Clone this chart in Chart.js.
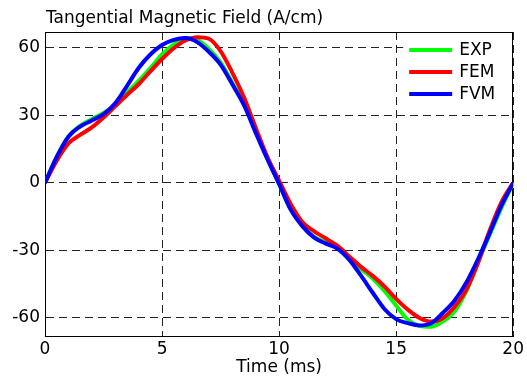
<!DOCTYPE html>
<html>
<head>
<meta charset="utf-8">
<title>Tangential Magnetic Field</title>
<script src="https://cdn.jsdelivr.net/npm/chart.js@4"></script>
<style>
  html, body { margin: 0; padding: 0; background: #fff; }
  #wrap { width: 527px; height: 376px; }
</style>
</head>
<body>
<div id="wrap"><canvas id="chart"></canvas></div>
<script>
// values
const timeMs = [0, 0.5, 1, 1.5, 2, 2.5, 3, 3.5, 4, 4.5, 5, 5.5, 6, 6.5, 7, 7.5, 8, 8.5, 9, 9.5,
  10, 10.5, 11, 11.5, 12, 12.5, 13, 13.5, 14, 14.5, 15, 15.5, 16, 16.5, 17, 17.5, 18, 18.5, 19, 19.5, 20];

const expVals = [0, 11.5, 20.5, 25.3, 28.3, 31, 34.5, 40, 45.3, 51, 57, 61.5, 64.3, 63.5, 59.5, 53.5, 44.5, 35, 23, 11,
  -0.5, -11.5, -19, -24, -26.5, -29, -33.2, -38.2, -42.5, -48, -54.5, -60.8, -63.5, -63.9, -61.5, -57, -48, -35, -23, -11, 0];

const femVals = [0, 9.8, 17.5, 21.3, 24.6, 29, 34, 39, 43.8, 49.5, 55, 59.8, 63.2, 64.7, 64, 58.5, 49, 38, 24.5, 11.5,
  1, -9.5, -17.5, -21.5, -24.7, -28, -32.7, -37.3, -41.3, -46, -51.5, -56.3, -60, -61.6, -60, -55, -47.5, -35.5, -21, -8.5, 0];

const fvmVals = [0, 11.5, 20.5, 25, 27.7, 30.5, 35.3, 43, 51, 57, 61.2, 63.5, 64.3, 62.5, 58.2, 52.5, 43.8, 34.5, 22.3, 10.5,
  -0.5, -12, -19.3, -24.3, -27, -29.3, -34.2, -41.2, -48.8, -56, -60.5, -62.3, -63.3, -62.3, -57.7, -52.2, -44.2, -33.8, -22.2, -10, 0];

const xTicks = [0, 5, 10, 15, 20];
const yTicks = [-60, -30, 0, 30, 60];

const FONT = 'DejaVu Sans';

function pts(vals){ return vals.map((v, i) => ({ x: timeMs[i], y: v })); }

// box around the plot area, title and legend
const frame = {
  id: 'frame',
  beforeDatasetsDraw(chart){
    const { ctx, chartArea: a } = chart;
    ctx.save();
    ctx.strokeStyle = '#000';
    ctx.lineWidth = 1;
    ctx.strokeRect(Math.round(a.left) + 0.5, Math.round(a.top) + 0.5, Math.round(a.right - a.left) - 1, Math.round(a.bottom - a.top));
    ctx.restore();
  },
  afterDraw(chart){
    const { ctx, chartArea: a } = chart;
    ctx.save();
    ctx.fillStyle = '#000';
    ctx.font = '17px "' + FONT + '"';
    ctx.textBaseline = 'alphabetic';
    ctx.textAlign = 'left';
    ctx.fillText('Tangential Magnetic Field (A/cm)', a.left + 1, 23);
    // legend inside the top right corner
    ctx.fillStyle = '#fff';
    ctx.fillRect(a.right - 110, a.top + 6, 108, 68);
    chart.data.datasets.forEach((ds, i) => {
      const y = a.top + 18 + i * 22;
      ctx.strokeStyle = ds.borderColor;
      ctx.lineWidth = 4;
      ctx.beginPath();
      ctx.moveTo(a.right - 104, y);
      ctx.lineTo(a.right - 61, y);
      ctx.stroke();
      ctx.fillStyle = '#000';
      ctx.textBaseline = 'middle';
      ctx.fillText(ds.label, a.right - 54, y + 1);
    });
    ctx.restore();
  }
};

const gridOpts = { color: '#222', lineWidth: 1, drawTicks: false };

new Chart(document.getElementById('chart'), {
  type: 'line',
  data: {
    datasets: [
      { label: 'EXP', data: pts(expVals), borderColor: '#00ff00', order: 2 },
      { label: 'FEM', data: pts(femVals), borderColor: '#ff0000', order: 1 },
      { label: 'FVM', data: pts(fvmVals), borderColor: '#0000ff', order: 0 },
    ]
  },
  options: {
    responsive: true,
    maintainAspectRatio: false,
    animation: false,
    devicePixelRatio: 1,
    layout: { padding: { top: 32, right: 13, left: 0, bottom: 0 } },
    elements: {
      line: { borderWidth: 4, cubicInterpolationMode: 'monotone', fill: false },
      point: { radius: 0 }
    },
    plugins: {
      legend: { display: false },
      tooltip: { enabled: false }
    },
    scales: {
      x: {
        type: 'linear',
        min: 0, max: 20,
        afterBuildTicks(s){ s.ticks = xTicks.map(v => ({ value: v })); },
        afterFit(s){ s.height = 40; },
        grid: gridOpts,
        border: { display: true, color: '#000', dash: [8, 5] },
        ticks: { padding: 3, color: '#000', font: { family: FONT, size: 17 } },
        title: { display: true, text: 'Time (ms)', color: '#000', padding: 0, font: { family: FONT, size: 17, lineHeight: 1 } }
      },
      y: {
        type: 'linear',
        min: -68, max: 67,
        afterBuildTicks(s){ s.ticks = yTicks.map(v => ({ value: v })); },
        afterFit(s){ s.width = 45; },
        grid: gridOpts,
        border: { display: true, color: '#000', dash: [8, 5] },
        ticks: { padding: 5, color: '#000', font: { family: FONT, size: 17 } }
      }
    }
  },
  plugins: [frame]
});
</script>
</body>
</html>
